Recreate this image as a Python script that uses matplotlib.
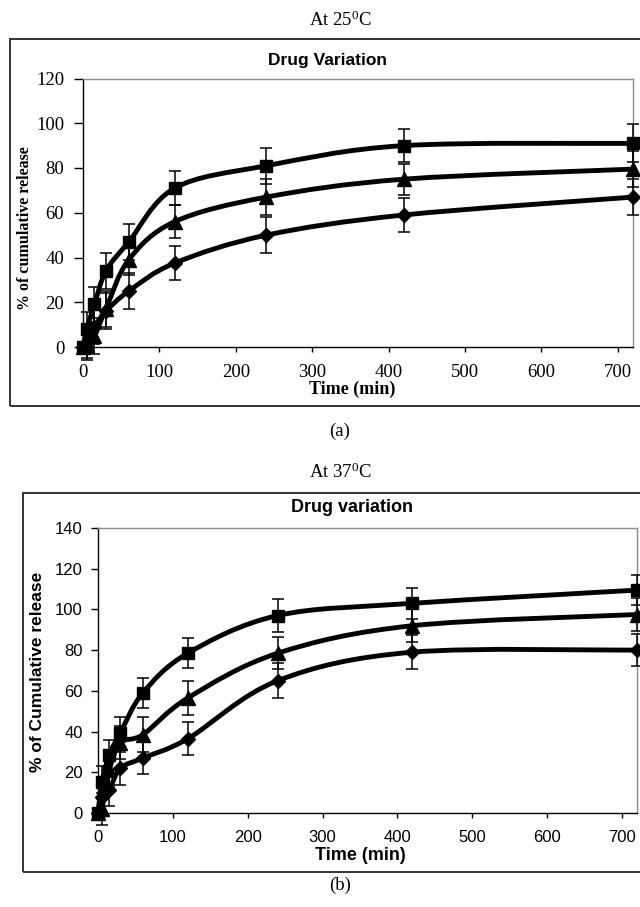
import matplotlib
matplotlib.use("Agg")
import numpy as np
import matplotlib.pyplot as plt
from matplotlib.path import Path
from matplotlib.patches import PathPatch, Rectangle

plt.rcParams['mathtext.fontset'] = 'custom'
plt.rcParams['mathtext.rm'] = 'Liberation Serif'
plt.rcParams['mathtext.it'] = 'Liberation Serif:italic'
plt.rcParams['mathtext.bf'] = 'Liberation Serif:bold'

# ---------------- data ----------------
time_min = [0, 5, 15, 30, 60, 120, 240, 420, 720]

# (a) 25 C
a_square = [0, 8, 19, 34, 47, 71, 81, 90, 91]
a_square_err = [0, 7.5, 8, 8, 8, 7.5, 8, 7.5, 8.5]
a_triangle = [0, 1, 5, 17, 39, 56, 67, 75, 79.5]
a_triangle_err = [0, 7, 8, 8, 7, 7.5, 8, 7, 8]
a_diamond = [0, 2, 9, 16, 25, 37.5, 50, 59, 67]
a_diamond_err = [0, 7, 7.5, 8, 8, 7.5, 8, 7.5, 8]

# (b) 37 C
b_square = [0, 15, 28.5, 39.5, 59, 78.5, 97, 103, 109.5]
b_square_err = [0, 8, 7.5, 7.5, 7.5, 7.5, 8, 7.5, 7.5]
b_triangle = [0, 2, 21, 34.5, 38.5, 56.5, 78.5, 92, 97.5]
b_triangle_err = [0, 8, 8, 8, 8.5, 8.5, 8, 8, 8]
b_diamond = [0, 8, 11.5, 22, 27, 36.5, 65, 79, 80]
b_diamond_err = [0, 8, 8, 8, 8, 8, 8.5, 8.5, 8]

x_ticks = [0, 100, 200, 300, 400, 500, 600, 700]
a_yticks = [0, 20, 40, 60, 80, 100, 120]
b_yticks = [0, 20, 40, 60, 80, 100, 120, 140]

W, H = 640, 907
fig = plt.figure(figsize=(W / 100, H / 100), dpi=100)


def fx(px):
    return px / W


def fy(py):
    return 1 - py / H


def smooth_path(x, y):
    pts = np.column_stack([x, y]).astype(float)
    n = len(pts)
    verts = [pts[0]]
    codes = [Path.MOVETO]
    for i in range(n - 1):
        p0 = pts[i - 1] if i > 0 else pts[i]
        p1 = pts[i]
        p2 = pts[i + 1]
        p3 = pts[i + 2] if i + 2 < n else pts[i + 1]
        c1 = p1 + (p2 - p0) / 6.0
        c2 = p2 - (p3 - p1) / 6.0
        verts += [c1, c2, p2]
        codes += [Path.CURVE4] * 3
    return Path(verts, codes)


def draw_series(ax, t, v, e, marker, ms):
    patch = PathPatch(smooth_path(t, v), fill=False, ec='black', lw=3.5,
                      transform=ax.transData, joinstyle='round',
                      capstyle='round', zorder=3, clip_on=False)
    ax.add_patch(patch)
    ax.errorbar(t, v, yerr=e, fmt='none', ecolor='black', elinewidth=1.1,
                capsize=4.3, capthick=1.1, zorder=4, clip_on=False)
    ax.plot(t, v, ls='none', marker=marker, ms=ms, color='black',
            mec='black', zorder=5, clip_on=False)


def style_axes(ax, family, tick_fs, ylim, yticks, ylen, ypad, xpad):
    ax.set_xlim(0, 720)
    ax.set_ylim(*ylim)
    ax.set_xticks(x_ticks)
    ax.set_yticks(yticks)
    for s in ['top', 'right']:
        ax.spines[s].set_color('#8c8c8c')
        ax.spines[s].set_linewidth(1.0)
    for s in ['left', 'bottom']:
        ax.spines[s].set_color('black')
        ax.spines[s].set_linewidth(1.0)
    ax.tick_params(axis='y', direction='out', length=ylen, width=1.0, pad=ypad)
    ax.tick_params(axis='x', direction='out', length=3.5, width=1.0, pad=xpad)
    for lab in ax.get_xticklabels() + ax.get_yticklabels():
        lab.set_family(family)
        lab.set_fontsize(tick_fs)


# ---------------- frames ----------------
fig.patches.append(Rectangle((fx(10), fy(406)), 1.2, (406 - 39) / H,
                             transform=fig.transFigure, fill=False,
                             ec='#333333', lw=1.4))
fig.patches.append(Rectangle((fx(22.7), fy(872)), 1.2, (872 - 493) / H,
                             transform=fig.transFigure, fill=False,
                             ec='#333333', lw=1.4))

# ---------------- panel (a) ----------------
ax1 = fig.add_axes([fx(83), fy(347), (633 - 83) / W, (347 - 78.5) / H])
draw_series(ax1, time_min, a_diamond, a_diamond_err, 'D', 7)
draw_series(ax1, time_min, a_triangle, a_triangle_err, '^', 9.5)
draw_series(ax1, time_min, a_square, a_square_err, 's', 8)
style_axes(ax1, 'Liberation Serif', 13.5, (0, 120), a_yticks, 6.5, 7, 9)

fig.text(fx(340), fy(20), r"At 25$^{\mathrm{0}}$C", ha='center', va='center',
         family='Liberation Serif', fontsize=13.5)
fig.text(fx(328), fy(61), "Drug Variation", ha='center', va='center',
         family='Liberation Sans', fontweight='bold', fontsize=12.5)
fig.text(fx(352), fy(389), "Time (min)", ha='center', va='center',
         family='Liberation Serif', fontweight='bold', fontsize=13)
fig.text(fx(25), fy(228), "% of cumulative release", ha='center', va='center',
         rotation=90, family='Liberation Serif', fontweight='bold', fontsize=11.5)
fig.text(fx(340), fy(431), "(a)", ha='center', va='center',
         family='Liberation Serif', fontsize=13.5)

# ---------------- panel (b) ----------------
ax2 = fig.add_axes([fx(98), fy(813), (637 - 98) / W, (813 - 528) / H])
draw_series(ax2, time_min, b_diamond, b_diamond_err, 'D', 7)
draw_series(ax2, time_min, b_triangle, b_triangle_err, '^', 9.5)
draw_series(ax2, time_min, b_square, b_square_err, 's', 8)
style_axes(ax2, 'Liberation Sans', 12, (0, 140), b_yticks, 5, 6, 9)

fig.text(fx(340), fy(472), r"At 37$^{\mathrm{0}}$C", ha='center', va='center',
         family='Liberation Serif', fontsize=13.5)
fig.text(fx(352), fy(507), "Drug variation", ha='center', va='center',
         family='Liberation Sans', fontweight='bold', fontsize=13)
fig.text(fx(360), fy(856), "Time (min)", ha='center', va='center',
         family='Liberation Sans', fontweight='bold', fontsize=13)
fig.text(fx(38), fy(672), "% of Cumulative release", ha='center', va='center',
         rotation=90, family='Liberation Sans', fontweight='bold', fontsize=12.5)
fig.text(fx(340), fy(885), "(b)", ha='center', va='center',
         family='Liberation Serif', fontsize=13.5)

fig.savefig("out.png", dpi=100, facecolor='white')
